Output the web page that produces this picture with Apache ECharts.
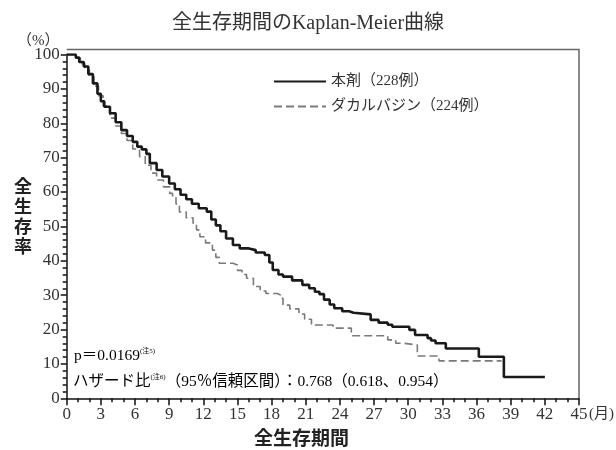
<!DOCTYPE html>
<html>
<head>
<meta charset="utf-8">
<script src="https://cdn.jsdelivr.net/npm/echarts@6/dist/echarts.min.js"></script>
<style>
html,body{margin:0;padding:0;background:#fff;}
#chart{width:616px;height:450px;}
</style>
</head>
<body>
<div id="chart"></div>
<script>
// 本剤 (228例) : [月, 生存率%]
var drugCurve = [
	[0,100],[0.8,99.1],[1.1,97.8],[1.5,96.5],[1.9,94.3],[2.3,91.6],[2.7,88.6],[3.0,86.4],
	[3.3,84.8],[3.8,82.9],[4.3,80.3],[4.8,78.0],[5.3,76.3],[5.8,74.6],[6.2,73.2],[6.6,72.4],
	[7.0,71.1],[7.3,68.4],[7.9,66.4],[8.4,64.5],[9.0,62.5],[9.5,60.8],[10.0,59.2],[10.5,57.9],
	[11.0,56.6],[11.6,55.3],[12.3,54.3],[12.7,52.0],[13.1,50.3],[13.5,48.6],[14.0,46.5],[14.6,44.6],
	[15.2,43.6],[16.0,43.1],[16.6,42.4],[17.4,41.7],[17.8,39.5],[18.1,37.3],[18.6,36.0],[19.0,35.4],
	[19.8,34.3],[20.7,33.0],[21.3,32.0],[21.8,31.0],[22.2,30.3],[22.6,28.7],[23.1,27.3],[23.5,26.2],
	[24.2,25.3],[24.8,24.9],[25.2,24.4],[26.7,22.8],[27.4,22.0],[28.2,21.4],[28.6,20.8],[30.1,19.9],
	[30.6,18.4],[31.7,17.5],[32.0,16.8],[32.4,16.0],[33.3,14.5],[36.2,12.1],[38.4,6.2],[42.0,6.2]
];
// ダカルバジン (224例)
var dtcCurve = [
	[0,100],[0.8,99.0],[1.2,97.3],[1.6,95.5],[2.0,93.5],[2.4,90.8],[2.8,88.0],[3.2,85.0],
	[3.8,81.5],[4.3,79.2],[4.8,77.0],[5.3,75.0],[5.8,72.5],[6.4,70.3],[6.9,67.8],[7.4,65.5],
	[7.9,63.5],[8.5,61.5],[9.05,59.6],[9.3,58.6],[9.6,56.5],[9.9,54.2],[10.5,52.5],[11.1,50.9],
	[11.4,49.0],[11.7,47.0],[12.2,45.2],[12.8,43.1],[13.1,41.0],[13.4,39.3],[14.6,38.8],[15.0,37.2],
	[15.4,36.0],[15.8,34.9],[16.4,32.5],[17.0,31.2],[17.5,30.5],[18.5,30.0],[18.8,29.1],[19.0,27.1],
	[19.6,26.0],[20.4,24.5],[20.9,23.0],[21.5,21.3],[23.4,20.4],[25.0,18.2],[28.2,17.0],[28.9,16.0],
	[29.6,15.5],[30.8,12.3],[32.7,10.9],[38.2,10.9]
];
var seriesNames = ['本剤（228例）', 'ダカルバジン（224例）'];

var serif = "'Liberation Serif','DejaVu Serif','Noto Sans CJK JP',serif";
var sans = "'Noto Sans CJK JP',sans-serif";

var myChart = echarts.init(document.getElementById('chart'));
var option = {
	animation: false,
	backgroundColor: '#fff',
	title: {
		text: '全生存期間のKaplan-Meier曲線',
		left: 'center',
		top: 9,
		textStyle: {fontFamily: serif, fontSize: 20, fontWeight: 'normal', color: '#333'}
	},
	legend: {
		orient: 'vertical',
		left: 268,
		top: 69,
		itemWidth: 52,
		itemHeight: 12,
		itemGap: 10,
		itemStyle: {opacity: 0},
		data: seriesNames,
		textStyle: {fontFamily: serif, fontSize: 15, color: '#333'}
	},
	grid: {left: 66.7, right: 37, top: 54.5, bottom: 51.7},
	xAxis: {
		type: 'value',
		min: 0, max: 45, interval: 3,
		splitLine: {show: false},
		axisLine: {lineStyle: {color: '#111', width: 1.5}},
		axisTick: {length: 7, lineStyle: {color: '#111', width: 1.5}},
		minorTick: {show: true, splitNumber: 3, length: 4, lineStyle: {color: '#111', width: 1.5}},
		axisLabel: {fontFamily: serif, fontSize: 17, color: '#333', margin: 8}
	},
	yAxis: {
		type: 'value',
		min: 0, max: 100, interval: 10,
		splitLine: {show: false},
		axisLine: {show: true, lineStyle: {color: '#111', width: 1.5}},
		axisTick: {show: true, length: 6, lineStyle: {color: '#111', width: 1.5}},
		minorTick: {show: true, splitNumber: 5, length: 4, lineStyle: {color: '#111', width: 1.5}},
		axisLabel: {fontFamily: serif, fontSize: 17, color: '#333', margin: 7}
	},
	series: [
		{
			name: seriesNames[0],
			type: 'line',
			step: 'end',
			symbol: 'none',
			data: drugCurve,
			lineStyle: {color: '#1a1a1a', width: 2.6},
			itemStyle: {color: '#1a1a1a'},
			z: 3
		},
		{
			name: seriesNames[1],
			type: 'line',
			step: 'end',
			symbol: 'none',
			data: dtcCurve,
			lineStyle: {color: '#7a7a7a', width: 1.6, type: [8, 4]},
			itemStyle: {color: '#7a7a7a'},
			z: 2
		}
	],
	graphic: [
		// 枠線 (上・右)
		{type: 'polyline', silent: true, shape: {points: [[66.7, 49.5], [579, 49.5], [579, 398.3]]},
			style: {stroke: '#666', lineWidth: 1.5, fill: null}},
		{type: 'text', left: 17, top: 34, style: {text: '（%）', font: '15px ' + serif, fill: '#333'}},
		{type: 'text', left: 589, top: 407, style: {text: '(月)', font: '15px ' + serif, fill: '#333'}},
		{type: 'text', left: 14, top: 176, style: {text: '全\n生\n存\n率', font: 'bold 18px ' + sans, lineHeight: 20, fill: '#222'}},
		{type: 'text', left: 254, top: 428, style: {text: '全生存期間', font: 'bold 19px ' + sans, fill: '#222'}},
		{type: 'text', left: 74, top: 348, style: {
			text: '{a|p＝0.0169}{s|(注5)}',
			rich: {
				a: {fontFamily: serif, fontSize: 15.5, color: '#333'},
				s: {fontFamily: serif, fontSize: 7, color: '#333', verticalAlign: 'top', padding: [0, 0, 8, 0]}
			}
		}},
		{type: 'text', left: 73, top: 374, style: {
			text: '{a|ハザード比}{s|(注6)}{a|（95％信頼区間）：0.768（0.618、0.954）}',
			rich: {
				a: {fontFamily: serif, fontSize: 15.5, color: '#333'},
				s: {fontFamily: serif, fontSize: 7, color: '#333', verticalAlign: 'top', padding: [0, 0, 8, 0]}
			}
		}}
	]
};
myChart.setOption(option);
</script>
</body>
</html>
